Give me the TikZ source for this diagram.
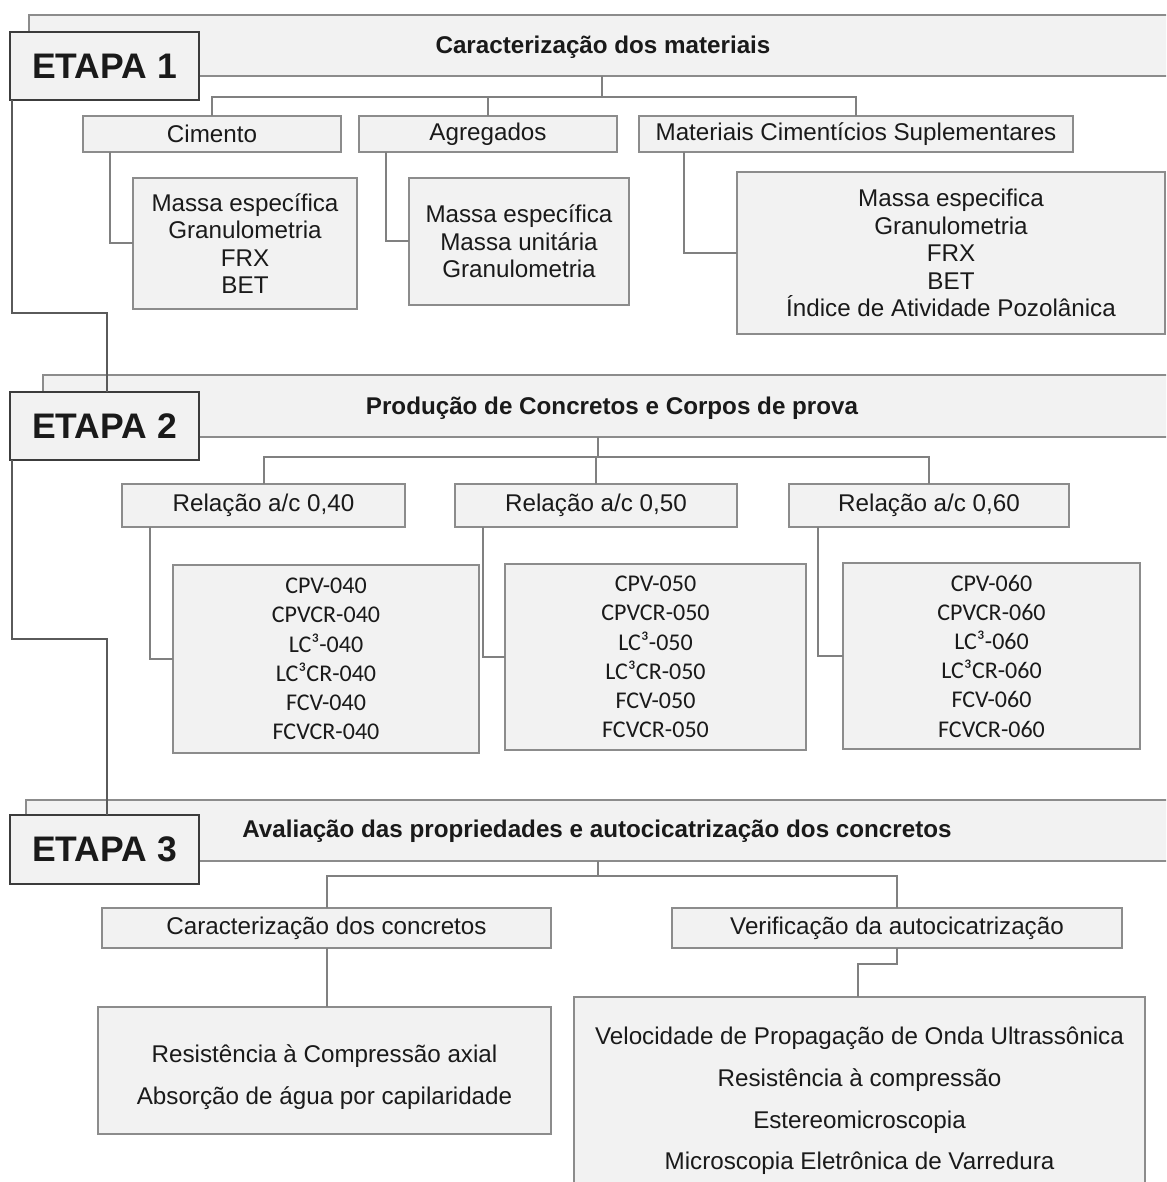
\documentclass[tikz,border=0pt]{standalone}
\usepackage{fontspec}
\setmainfont{Liberation Sans}
\newfontfamily\calibrifont{Carlito}
\definecolor{boxfill}{HTML}{F2F2F2}
\definecolor{boxline}{HTML}{8C8C8C}
\definecolor{darkline}{HTML}{3C3C3C}
\definecolor{connline}{HTML}{808080}
\definecolor{linkline}{HTML}{5A5A5A}
\definecolor{txt}{HTML}{1A1A1A}
\tikzset{
  box/.style={draw=boxline, line width=2.6pt, fill=boxfill, anchor=north west,
    inner sep=0pt, outer sep=0pt, text=txt, align=center,
    font=\fontsize{24.2}{27.3}\selectfont},
  etapa/.style={box, draw=darkline, line width=2.6pt, font=\bfseries\fontsize{35.5}{40}\selectfont},
  bar/.style={box},
  ttl/.style={text=txt, font=\bfseries\fontsize{24.2}{28}\selectfont, inner sep=0pt},
  calbox/.style={box, font=\calibrifont\fontsize{24}{29.2}\selectfont},
  plain/.style={text=txt, align=center, inner sep=0pt},
  conn/.style={draw=connline, line width=2pt},
  elink/.style={draw=linkline, line width=1.7pt},
}
\begin{document}
\begin{tikzpicture}[x=1pt,y=-1pt]
\useasboundingbox (0,0) rectangle (1166,1182);
\clip (0,0) rectangle (1166,1182);
\fill[white] (0,0) rectangle (1166,1182);

% ---------------- ETAPA 1 ----------------
\node[bar, minimum width=1148pt, minimum height=61pt] (bar1) at (29,15) {};
\node[ttl] (t1) at (603,47.5) {Caracterização dos materiais};
\node[etapa, minimum width=189pt, minimum height=68pt] (e1) at (10,32) {ETAPA 1};

\node[box, minimum width=258pt, minimum height=36pt] (cim) at (83,116) {Cimento};
\node[box, minimum width=258pt, minimum height=36pt] (agr) at (359,116) {Agregados};
\node[box, minimum width=434pt, minimum height=36pt] (mcs) at (639,116) {Materiais Cimentícios Suplementares};

\node[box, minimum width=224pt, minimum height=131pt] (cimd) at (133,178)
  {Massa específica\\Granulometria\\FRX\\BET};
\node[box, minimum width=220pt, minimum height=127pt] (agrd) at (409,178)
  {Massa específica\\Massa unitária\\Granulometria};
\node[box, minimum width=428pt, minimum height=162pt, font=\fontsize{24.2}{27.6}\selectfont] (mcsd) at (737,172)
  {Massa especifica\\Granulometria\\FRX\\BET\\Índice de Atividade Pozolânica};

\coordinate (j1) at (602,97);
\draw[conn] (j1 |- bar1.south) -- (j1);
\draw[conn] (cim.north) |- (j1) -| (mcs.north);
\draw[conn] (agr.north) -- (agr.north |- j1);
\draw[conn] ([xshift=27pt]cim.south west) |- (cimd.west);
\draw[conn] ([xshift=27pt]agr.south west) |- (agrd.west);
\draw[conn] ([xshift=45pt]mcs.south west) |- (mcsd.west);

% ---------------- ETAPA 2 ----------------
\node[bar, minimum width=1132pt, minimum height=62pt] (bar2) at (43,375) {};
\node[ttl] (t2) at (612,408.5) {Produção de Concretos e Corpos de prova};
\node[etapa, minimum width=189pt, minimum height=68pt] (e2) at (10,392) {ETAPA 2};

\coordinate (k1) at (107,313);
\draw[elink] ([xshift=2pt]e1.south west) |- (k1) -- (k1 |- e2.north);

\node[box, minimum width=283pt, minimum height=43pt] (r40) at (122,484) {Relação a/c 0,40};
\node[box, minimum width=282pt, minimum height=43pt] (r50) at (455,484) {Relação a/c 0,50};
\node[box, minimum width=280pt, minimum height=43pt] (r60) at (789,484) {Relação a/c 0,60};

\node[calbox, minimum width=306pt, minimum height=188pt] (b40) at (173,565)
  {CPV-040\\CPVCR-040\\LC³-040\\LC³CR-040\\FCV-040\\FCVCR-040};
\node[calbox, minimum width=301pt, minimum height=186pt] (b50) at (505,564)
  {CPV-050\\CPVCR-050\\LC³-050\\LC³CR-050\\FCV-050\\FCVCR-050};
\node[calbox, minimum width=297pt, minimum height=186pt] (b60) at (843,563)
  {CPV-060\\CPVCR-060\\LC³-060\\LC³CR-060\\FCV-060\\FCVCR-060};

\coordinate (j2) at (598,457);
\draw[conn] (j2 |- bar2.south) -- (j2);
\draw[conn] (r40.north) |- (j2) -| (r60.north);
\draw[conn] (r50.north) -- (r50.north |- j2);
\draw[conn] ([xshift=28pt]r40.south west) |- (b40.west);
\draw[conn] ([xshift=28pt]r50.south west) |- (b50.west);
\draw[conn] ([xshift=29pt]r60.south west) |- (b60.west);

% ---------------- ETAPA 3 ----------------
\node[bar, minimum width=1149pt, minimum height=61pt] (bar3) at (26,800) {};
\node[ttl] (t3) at (597,831.5) {Avaliação das propriedades e autocicatrização dos concretos};
\node[etapa, minimum width=189pt, minimum height=69pt] (e3) at (10,815) {ETAPA 3};

\coordinate (k2) at (107,639);
\draw[elink] ([xshift=2pt]e2.south west) |- (k2) -- (k2 |- e3.north);

\node[box, minimum width=449pt, minimum height=40pt] (carc) at (102,908) {Caracterização dos concretos};
\node[box, minimum width=450pt, minimum height=40pt] (verif) at (672,908) {Verificação da autocicatrização};

\node[box, minimum width=453pt, minimum height=127pt] (card) at (98,1007) {};
\node[plain, font=\fontsize{24.2}{42}\selectfont] (cardtxt) at ([yshift=-7pt]card.center)
  {Resistência à Compressão axial\\Absorção de água por capilaridade};
\node[box, minimum width=571pt, minimum height=202pt] (velo) at (574,997) {};
\node[plain, font=\fontsize{24.2}{41.6}\selectfont] (velotxt) at ([yshift=-3pt]velo.center)
  {Velocidade de Propagação de Onda Ultrassônica\\Resistência à compressão\\Estereomicroscopia\\Microscopia Eletrônica de Varredura};

\coordinate (j3) at (598,876);
\draw[conn] (j3 |- bar3.south) -- (j3);
\draw[conn] (carc.north) |- (j3) -| (verif.north);
\draw[conn] (carc.south) -- (carc.south |- card.north);
\coordinate (k3) at (858,964);
\draw[conn] (verif.south) |- (k3) -- (k3 |- velo.north);
\end{tikzpicture}
\end{document}
